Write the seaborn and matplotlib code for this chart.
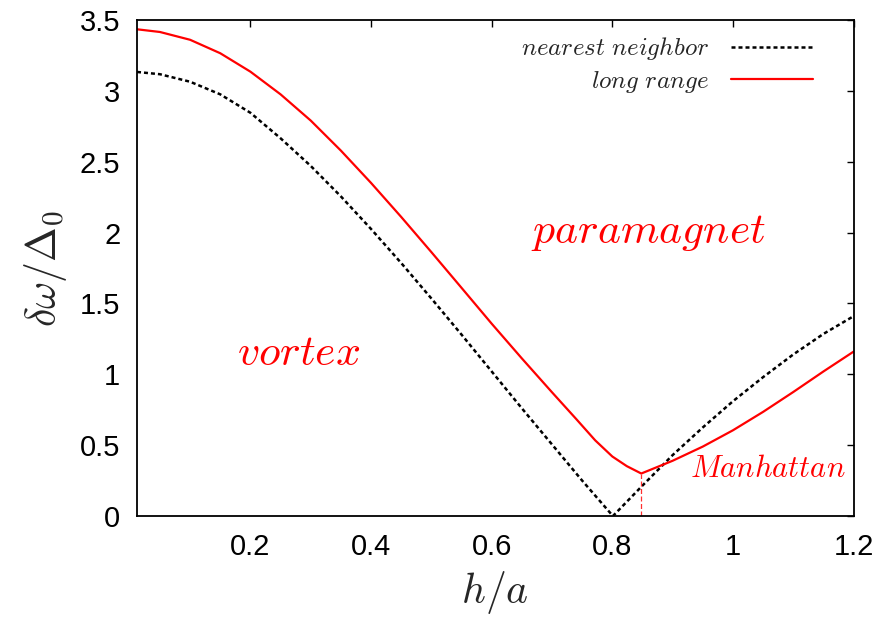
import matplotlib
matplotlib.use("Agg")
import matplotlib.pyplot as plt
import seaborn as sns
import pandas as pd

# ---- data ----
h_nn = [0.012, 0.05, 0.1, 0.15, 0.2, 0.25, 0.3, 0.35, 0.4, 0.45, 0.5, 0.55,
        0.6, 0.65, 0.7, 0.75, 0.801, 0.85, 0.9, 0.95, 1.0, 1.05, 1.1, 1.15, 1.2]
nearest_neighbor = [3.133, 3.117, 3.064, 2.975, 2.845, 2.665, 2.47, 2.255, 2.025,
                    1.785, 1.535, 1.28, 1.02, 0.76, 0.505, 0.25, 0.0, 0.215,
                    0.43, 0.625, 0.81, 0.98, 1.14, 1.285, 1.41]

h_lr = [0.012, 0.05, 0.1, 0.15, 0.2, 0.25, 0.3, 0.35, 0.4, 0.45, 0.5, 0.55,
        0.6, 0.65, 0.7, 0.74, 0.7716, 0.80, 0.824, 0.848, 0.9, 0.95, 1.0,
        1.05, 1.1, 1.15, 1.2]
long_range = [3.434, 3.415, 3.36, 3.265, 3.135, 2.975, 2.79, 2.578, 2.35, 2.11,
              1.862, 1.61, 1.357, 1.112, 0.873, 0.685, 0.534, 0.42, 0.352, 0.30,
              0.39, 0.49, 0.605, 0.735, 0.875, 1.02, 1.16]

manhattan_h = 0.848
manhattan_gap = 0.30

x_ticks = [0.2, 0.4, 0.6, 0.8, 1.0, 1.2]
x_tick_labels = ["0.2", "0.4", "0.6", "0.8", "1", "1.2"]
y_ticks = [0, 0.5, 1, 1.5, 2, 2.5, 3, 3.5]
y_tick_labels = ["0", "0.5", "1", "1.5", "2", "2.5", "3", "3.5"]

series_names = [r"$nearest\ neighbor$", r"$long\ range$"]
region_labels = [r"$vortex$", r"$paramagnet$", r"$Manhattan$"]
region_pos = [(0.28, 1.15), (0.86, 2.0), (1.057, 0.335)]

# ---- style ----
sns.set_theme(style="white")
plt.rcParams["font.family"] = ["Liberation Sans", "DejaVu Sans"]
plt.rcParams["mathtext.fontset"] = "cm"

fig = plt.figure(figsize=(8.8, 6.23), dpi=100)
ax = fig.add_axes([0.1557, 0.1717, 0.8143, 0.7963])

df_nn = pd.DataFrame({"h": h_nn, "v": nearest_neighbor})
df_lr = pd.DataFrame({"h": h_lr, "v": long_range})

sns.lineplot(data=df_nn, x="h", y="v", ax=ax, color="black", lw=1.8,
             linestyle=(0, (1.6, 1.2)), label=series_names[0])
sns.lineplot(data=df_lr, x="h", y="v", ax=ax, color="#ff0000", lw=1.6,
             label=series_names[1])
ax.plot([manhattan_h, manhattan_h], [0, manhattan_gap], color="#ff3030",
        lw=0.9, linestyle=(0, (4, 2)))

ax.text(*region_pos[0], region_labels[0], color="#ff0000", fontsize=31.5,
        ha="center", va="center")
ax.text(*region_pos[1], region_labels[1], color="#ff0000", fontsize=31.5,
        ha="center", va="center")
ax.text(*region_pos[2], region_labels[2], color="#ff0000", fontsize=22,
        ha="center", va="center")

ax.set_xlim(0.012, 1.2)
ax.set_ylim(0, 3.5)
ax.set_xticks(x_ticks)
ax.set_xticklabels(x_tick_labels)
ax.set_yticks(y_ticks)
ax.set_yticklabels(y_tick_labels)
ax.tick_params(direction="in", length=5, width=1, top=True, right=True,
               labelsize=21, colors="black", pad=12)
for s in ax.spines.values():
    s.set_color("black")
    s.set_linewidth(1.3)

ax.set_xlabel(r"$h/a$", fontsize=30, labelpad=6)
ax.set_ylabel(r"$\delta\omega/\Delta_0$", fontsize=30, labelpad=8)

leg = ax.legend(loc="upper right", bbox_to_anchor=(0.975, 1.014), frameon=False,
                markerfirst=False, fontsize=18, handlelength=3.3,
                handletextpad=0.85, labelspacing=0.25)

fig.savefig("out.png", dpi=100)
